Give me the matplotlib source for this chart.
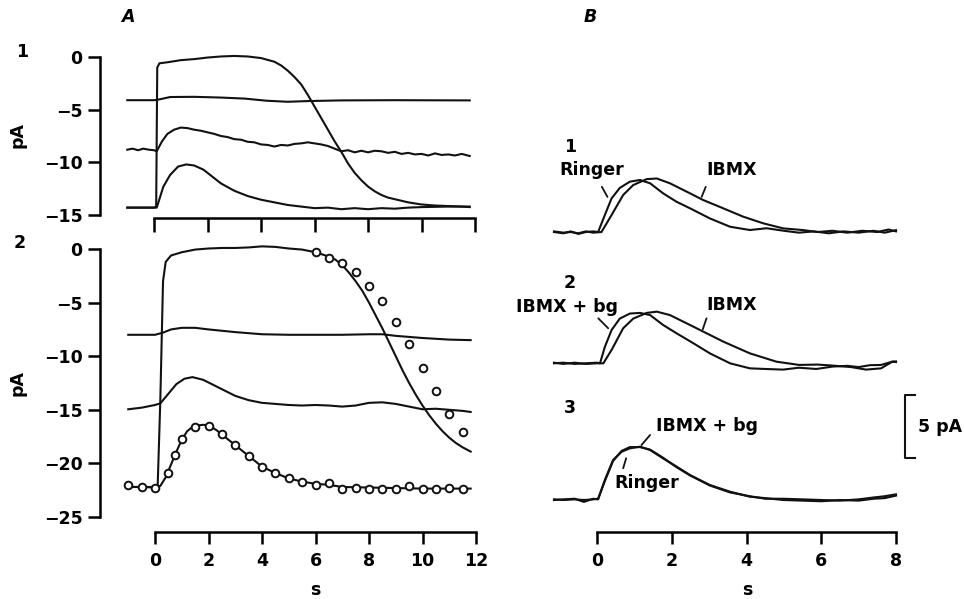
import matplotlib.pyplot as plt

plt.rcParams['font.family'] = ['DejaVu Sans']
plt.rcParams['font.weight'] = 'bold'
plt.rcParams['font.size'] = 12.5

# ---------------- panel A1 (pA vs s) ----------------
a1_sat_t = [-1.0, -0.5, 0.0, 0.08, 0.12, 0.2, 0.5, 1.0, 1.5, 2.0, 2.5, 3.0, 3.5, 4.0,
            4.5, 4.75, 5.0, 5.25, 5.5, 5.75, 6.0, 6.25, 6.5, 6.75, 7.0, 7.25, 7.5, 7.75,
            8.0, 8.25, 8.5, 8.75, 9.0, 9.5, 10.0, 10.5, 11.0, 11.5, 11.8]
a1_sat = [-14.3, -14.3, -14.3, -14.2, -1.0, -0.6, -0.5, -0.3, -0.2, -0.05, 0.05, 0.1,
          0.05, -0.1, -0.45, -0.8, -1.3, -1.9, -2.6, -3.6, -4.7, -5.8, -6.9, -8.0, -9.0,
          -10.1, -11.0, -11.7, -12.3, -12.75, -13.1, -13.35, -13.5, -13.8, -14.0, -14.1,
          -14.15, -14.2, -14.25]

a1_flat_t = [-1.0, 0.0, 0.15, 0.6, 1.5, 2.5, 3.4, 4.2, 5.0, 5.8, 7.0, 9.0, 11.8]
a1_flat = [-4.1, -4.1, -4.05, -3.8, -3.78, -3.85, -3.95, -4.15, -4.25, -4.18, -4.12,
           -4.1, -4.12]

a1_mid_t = [-1.0, -0.8, -0.6, -0.4, -0.2, 0.0, 0.1, 0.3, 0.5, 0.75, 1.0, 1.25, 1.5,
            1.75, 2.0, 2.25, 2.5, 2.75, 3.0, 3.25, 3.5, 3.75, 4.0, 4.25, 4.5, 4.75, 5.0,
            5.25, 5.5, 5.75, 6.0, 6.25, 6.5, 6.75, 7.0, 7.25, 7.5, 7.75, 8.0, 8.25, 8.5,
            8.75, 9.0, 9.25, 9.5, 9.75, 10.0, 10.25, 10.5, 10.75, 11.0, 11.25, 11.5, 11.8]
a1_mid = [-8.8, -8.7, -8.85, -8.7, -8.8, -8.85, -8.95, -8.0, -7.3, -6.9, -6.7, -6.75,
          -6.9, -7.0, -7.15, -7.3, -7.5, -7.6, -7.8, -7.85, -8.05, -8.1, -8.3, -8.35,
          -8.5, -8.35, -8.4, -8.25, -8.2, -8.1, -8.2, -8.3, -8.45, -8.7, -8.95, -8.85,
          -9.05, -8.9, -9.05, -8.9, -8.95, -9.1, -9.0, -9.2, -9.1, -9.25, -9.2, -9.35,
          -9.15, -9.3, -9.25, -9.35, -9.2, -9.4]

a1_low_t = [-1.0, -0.5, 0.0, 0.1, 0.35, 0.6, 0.9, 1.2, 1.5, 1.85, 2.2, 2.5, 3.0, 3.5,
            4.0, 4.5, 5.0, 5.5, 6.0, 6.5, 7.0, 7.5, 8.0, 8.5, 9.0, 9.5, 10.0, 11.0, 11.8]
a1_low = [-14.3, -14.3, -14.3, -14.3, -12.3, -11.2, -10.4, -10.2, -10.3, -10.7, -11.4,
          -12.0, -12.7, -13.2, -13.55, -13.8, -14.05, -14.2, -14.35, -14.3, -14.45,
          -14.35, -14.45, -14.35, -14.4, -14.3, -14.25, -14.2, -14.2]

# ---------------- panel A2 (pA vs s) ----------------
a2_sat_t = [-1.0, -0.5, 0.0, 0.1, 0.2, 0.3, 0.4, 0.6, 1.0, 1.5, 2.0, 2.5, 3.0, 3.5, 4.0,
            4.5, 5.0, 5.5, 6.0, 6.5, 6.75, 7.0, 7.25, 7.5, 7.75, 8.0, 8.25, 8.5, 8.75,
            9.0, 9.25, 9.5, 9.75, 10.0, 10.25, 10.5, 10.75, 11.0, 11.25, 11.5, 11.8]
a2_sat = [-22.2, -22.2, -22.2, -22.1, -14.0, -3.0, -1.2, -0.6, -0.3, -0.05, 0.05, 0.1,
          0.1, 0.15, 0.25, 0.2, 0.05, -0.05, -0.3, -0.7, -1.0, -1.5, -2.2, -3.0, -3.9,
          -5.0, -6.2, -7.4, -8.7, -10.0, -11.3, -12.5, -13.6, -14.6, -15.5, -16.3,
          -17.0, -17.6, -18.1, -18.5, -18.9]

a2_flat_t = [-1.0, 0.0, 0.3, 0.6, 1.0, 1.5, 2.0, 3.0, 4.0, 5.0, 6.0, 7.0, 8.0, 8.5, 9.0,
             9.5, 10.0, 11.0, 11.8]
a2_flat = [-8.0, -8.0, -7.8, -7.5, -7.35, -7.35, -7.5, -7.75, -7.95, -8.0, -8.0, -8.0,
           -7.95, -7.95, -8.1, -8.2, -8.3, -8.45, -8.5]

a2_mid_t = [-1.0, -0.5, 0.0, 0.2, 0.5, 0.8, 1.1, 1.4, 1.8, 2.2, 2.6, 3.0, 3.5, 4.0, 4.5,
            5.0, 5.5, 6.0, 6.5, 7.0, 7.5, 8.0, 8.5, 9.0, 9.5, 10.0, 10.5, 11.0, 11.5, 11.8]
a2_mid = [-14.95, -14.8, -14.55, -14.4, -13.5, -12.6, -12.1, -11.95, -12.2, -12.7,
          -13.2, -13.7, -14.1, -14.35, -14.45, -14.55, -14.6, -14.55, -14.6, -14.7,
          -14.6, -14.35, -14.3, -14.45, -14.7, -14.95, -14.9, -15.0, -15.1, -15.2]

a2_low_t = [-1.0, -0.5, 0.0, 0.2, 0.4, 0.6, 0.8, 1.0, 1.2, 1.4, 1.6, 1.8, 2.0, 2.3, 2.6,
            3.0, 3.5, 4.0, 4.5, 5.0, 5.5, 6.0, 6.5, 7.0, 8.0, 9.0, 10.0, 11.0, 11.8]
a2_low = [-22.2, -22.2, -22.25, -22.1, -21.3, -20.1, -18.9, -17.8, -17.0, -16.6, -16.45,
          -16.4, -16.45, -16.9, -17.5, -18.3, -19.3, -20.3, -20.9, -21.4, -21.7, -21.9,
          -22.0, -22.2, -22.25, -22.3, -22.35, -22.35, -22.35]

# circles: model points
fit_low_t = [-1.0, -0.5, 0.0, 0.5, 0.75, 1.0, 1.5, 2.0, 2.5, 3.0, 3.5, 4.0, 4.5, 5.0,
             5.5, 6.0, 6.5, 7.0, 7.5, 8.0, 8.5, 9.0, 9.5, 10.0, 10.5, 11.0, 11.5]
fit_low = [-22.0, -22.2, -22.3, -20.9, -19.2, -17.7, -16.6, -16.5, -17.3, -18.3, -19.3,
           -20.3, -20.9, -21.4, -21.7, -22.0, -21.8, -22.4, -22.25, -22.35, -22.35,
           -22.4, -22.15, -22.35, -22.4, -22.3, -22.4]
fit_sat_t = [6.0, 6.5, 7.0, 7.5, 8.0, 8.5, 9.0, 9.5, 10.0, 10.5, 11.0, 11.5]
fit_sat = [-0.3, -0.87, -1.34, -2.18, -3.42, -4.85, -6.78, -8.86, -11.13, -13.25,
           -15.4, -17.1]

# ---------------- panel B (pA above own baseline) ----------------
b1_ringer_t = [-1.15, -0.9, -0.7, -0.5, -0.3, -0.1, 0.03, 0.21, 0.39, 0.61, 0.88, 1.15,
               1.42, 1.77, 2.13, 2.49, 3.02, 3.56, 4.09, 4.54, 5.0, 5.4, 5.8, 6.2, 6.6,
               7.0, 7.4, 7.7, 8.0]
b1_ringer = [0.0, -0.1, 0.05, -0.15, 0.0, 0.05, 0.0, 1.35, 2.67, 3.5, 4.0, 4.13, 3.87,
             3.07, 2.4, 1.88, 1.08, 0.42, 0.16, 0.3, 0.1, -0.05, 0.05, -0.1, 0.05, -0.05,
             0.1, -0.05, 0.15]
b1_ibmx_t = [-1.15, -0.9, -0.7, -0.5, -0.3, -0.1, 0.12, 0.39, 0.7, 0.97, 1.33, 1.6, 1.95,
             2.49, 2.84, 3.38, 3.91, 4.45, 4.98, 5.5, 5.9, 6.3, 6.7, 7.1, 7.5, 7.8, 8.0]
b1_ibmx = [0.05, -0.05, 0.0, -0.1, 0.05, -0.05, 0.0, 1.35, 2.94, 3.73, 4.2, 4.25, 3.87,
           3.07, 2.54, 1.88, 1.22, 0.69, 0.29, 0.16, 0.0, 0.1, -0.05, 0.1, 0.0, 0.2, 0.05]

b2_bg_t = [-1.15, -0.9, -0.6, -0.3, 0.0, 0.08, 0.21, 0.39, 0.61, 0.88, 1.15, 1.42, 1.77,
           2.13, 2.58, 3.02, 3.56, 4.09, 4.5, 4.98, 5.4, 5.87, 6.3, 6.7, 7.0, 7.3, 7.6,
           7.9, 8.0]
b2_bg = [0.0, 0.05, -0.05, 0.0, 0.05, 0.0, 1.3, 2.64, 3.55, 3.95, 4.0, 3.83, 3.04, 2.38,
         1.59, 0.79, 0.0, -0.4, -0.45, -0.5, -0.35, -0.45, -0.26, -0.2, -0.3, -0.15,
         -0.13, 0.13, 0.15]
b2_ibmx_t = [-1.15, -0.9, -0.6, -0.3, 0.0, 0.17, 0.39, 0.7, 0.97, 1.33, 1.6, 1.95, 2.49,
             2.84, 3.38, 4.09, 4.8, 5.41, 5.9, 6.3, 6.8, 7.2, 7.6, 7.9, 8.0]
b2_ibmx = [0.05, -0.05, 0.05, -0.05, 0.0, 0.0, 1.06, 2.78, 3.55, 4.0, 4.1, 3.83, 3.04,
           2.52, 1.72, 0.79, 0.13, -0.13, -0.1, -0.18, -0.3, -0.5, -0.4, 0.13, 0.1]

b3_t = [-1.15, -0.9, -0.6, -0.35, -0.1, 0.03, 0.21, 0.43, 0.66, 0.88, 1.15, 1.42, 1.77,
        2.13, 2.49, 3.02, 3.56, 4.09, 4.5, 4.98, 5.5, 6.0, 6.5, 7.0, 7.4, 7.7, 8.0]
b3_ringer = [0.0, 0.05, 0.1, -0.15, 0.1, 0.05, 1.59, 3.17, 3.83, 4.1, 4.23, 3.97, 3.3,
             2.65, 1.98, 1.19, 0.66, 0.26, 0.15, 0.0, -0.05, -0.1, 0.0, -0.05, 0.1, 0.15,
             0.35]
b3_bg = [0.05, 0.0, 0.05, 0.0, 0.05, 0.1, 1.5, 3.1, 3.9, 4.2, 4.2, 4.0, 3.35, 2.6, 1.95,
         1.15, 0.6, 0.3, 0.1, 0.1, 0.05, 0.0, -0.05, 0.05, 0.2, 0.3, 0.45]

x_ticks = [0, 2, 4, 6, 8, 10, 12]
b_ticks = [0, 2, 4, 6, 8]

# layout (figure pixels)
W, H = 964, 599
LW = 1.5
K = '#111111'


def px_axes(fig, left, top, right, bottom):
    return fig.add_axes([left / W, 1 - bottom / H, (right - left) / W, (bottom - top) / H])


def style(ax, xb, yb):
    for s in ['top', 'right']:
        ax.spines[s].set_visible(False)
    if yb is None:
        ax.spines['left'].set_visible(False)
        ax.set_yticks([])
    else:
        ax.spines['left'].set_bounds(*yb)
    ax.spines['bottom'].set_bounds(*xb)
    for s in ['left', 'bottom']:
        ax.spines[s].set_linewidth(1.8)
    ax.tick_params(direction='out', length=8.5, width=1.8, pad=4, colors='k')
    ax.tick_params(axis='x', pad=6)


fig = plt.figure(figsize=(W / 100, H / 100), dpi=100)

# A1
ax1 = px_axes(fig, 100, 45, 482, 218)
for t, v in [(a1_sat_t, a1_sat), (a1_flat_t, a1_flat), (a1_mid_t, a1_mid), (a1_low_t, a1_low)]:
    ax1.plot(t, v, color=K, lw=LW)
ax1.set_xlim(-2.02, 12.26)
ax1.set_ylim(-15.285, 1.14)
ax1.set_yticks([0, -5, -10, -15])
ax1.set_xticks(x_ticks)
style(ax1, (0, 12), (-15, 0))
ax1.tick_params(axis='x', labelbottom=False, length=10)

# A2
ax2 = px_axes(fig, 100, 238, 482, 532)
for t, v in [(a2_sat_t, a2_sat), (a2_flat_t, a2_flat), (a2_mid_t, a2_mid), (a2_low_t, a2_low)]:
    ax2.plot(t, v, color=K, lw=LW)
ax2.plot(fit_low_t, fit_low, 'o', ms=5.5, mfc='white', mec=K, mew=1.4)
ax2.plot(fit_sat_t, fit_sat, 'o', ms=5.5, mfc='white', mec=K, mew=1.4)
ax2.set_xlim(-2.056, 12.224)
ax2.set_ylim(-26.4, 1.03)
ax2.set_yticks([0, -5, -10, -15, -20, -25])
ax2.set_xticks(x_ticks)
style(ax2, (0, 12), (-25, 0))

# B
axb = px_axes(fig, 545, 100, 964, 532)
base1, base2, base3 = 23.81, 13.39, 2.54
for t, v, b in [(b1_ringer_t, b1_ringer, base1), (b1_ibmx_t, b1_ibmx, base1),
                (b2_bg_t, b2_bg, base2), (b2_ibmx_t, b2_ibmx, base2),
                (b3_t, b3_ringer, base3), (b3_t, b3_bg, base3)]:
    axb.plot(t, [x + b for x in v], color=K, lw=LW)
axb.set_xlim(-1.391, 9.819)
axb.set_ylim(0, 34.29)
axb.set_xticks(b_ticks)
style(axb, (0, 8), None)

ptr = dict(arrowstyle='-', lw=1.3, color=K, shrinkA=0, shrinkB=0)
axb.text(-0.72, 30.56, '1', ha='center', va='center')
axb.text(-0.13, 28.73, 'Ringer', ha='center', va='center')
axb.text(3.61, 28.73, 'IBMX', ha='center', va='center')
axb.annotate('', xy=(0.28, 26.6), xytext=(0.13, 27.4), arrowprops=ptr)
axb.annotate('', xy=(2.80, 26.6), xytext=(2.91, 27.4), arrowprops=ptr)

axb.text(-0.72, 19.76, '2', ha='center', va='center')
axb.text(-0.81, 17.88, 'IBMX + bg', ha='center', va='center')
axb.text(3.61, 18.02, 'IBMX', ha='center', va='center')
axb.annotate('', xy=(0.30, 16.17), xytext=(0.035, 16.96), arrowprops=ptr)
axb.annotate('', xy=(2.83, 16.09), xytext=(2.93, 16.96), arrowprops=ptr)

axb.text(-0.72, 9.82, '3', ha='center', va='center')
axb.text(2.93, 8.41, 'IBMX + bg', ha='center', va='center')
axb.text(1.34, 3.87, 'Ringer', ha='center', va='center')
axb.annotate('', xy=(1.19, 6.9), xytext=(1.42, 7.7), arrowprops=ptr)
axb.annotate('', xy=(0.78, 5.85), xytext=(0.70, 5.06), arrowprops=ptr)

# 5 pA scale bar
sb_x, sb_y0 = 8.24, 5.87
axb.plot([sb_x + 0.27, sb_x, sb_x, sb_x + 0.27], [sb_y0, sb_y0, sb_y0 + 5, sb_y0 + 5],
         color=K, lw=1.5, clip_on=False)
axb.text(sb_x + 0.36, sb_y0 + 2.5, '5 pA', ha='left', va='center')

# figure labels
fig.text(128 / W, 1 - 17 / H, 'A', ha='center', va='center', style='italic')
fig.text(590 / W, 1 - 17 / H, 'B', ha='center', va='center', style='italic')
fig.text(22 / W, 1 - 52 / H, '1', ha='center', va='center')
fig.text(20 / W, 1 - 243 / H, '2', ha='center', va='center')
fig.text(17 / W, 1 - 135 / H, 'pA', ha='center', va='center', rotation=90)
fig.text(17 / W, 1 - 383 / H, 'pA', ha='center', va='center', rotation=90)
fig.text(315 / W, 1 - 590 / H, 's', ha='center', va='center')
fig.text(747 / W, 1 - 590 / H, 's', ha='center', va='center')

fig.savefig('out.png', dpi=100)
